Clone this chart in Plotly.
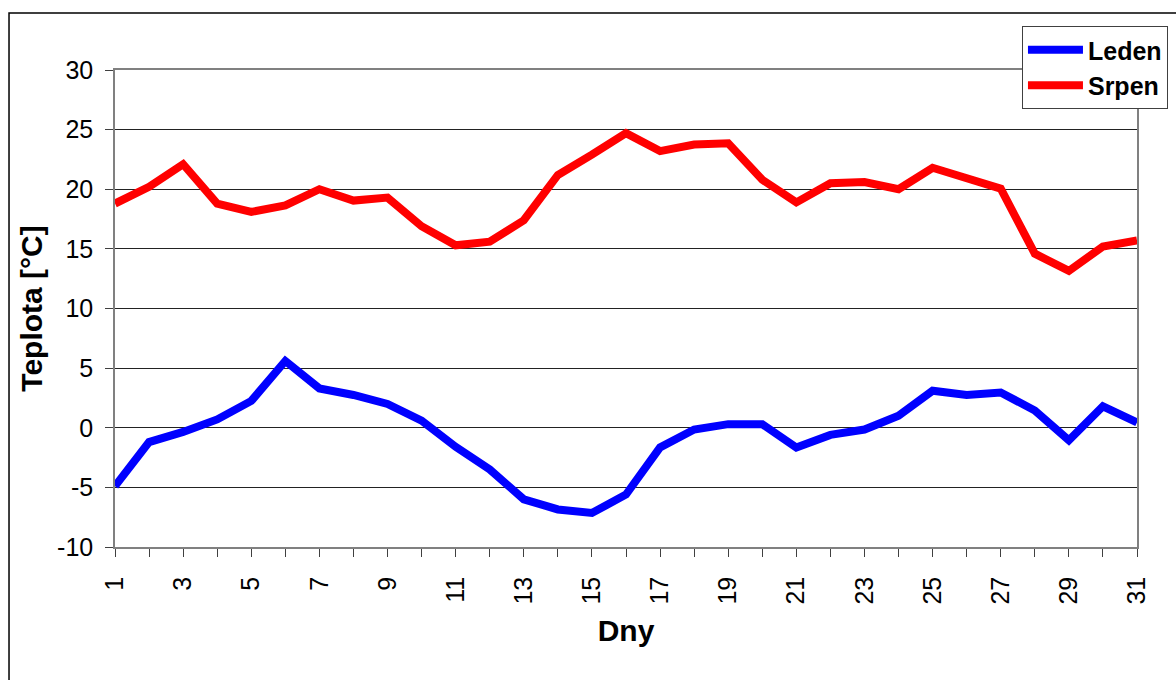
import plotly.graph_objects as go

# Daily temperatures for January (Leden) and August (Srpen)
dny = list(range(1, 32))
leden = [-4.9, -1.2, -0.35, 0.7, 2.25, 5.6, 3.3, 2.75, 2.0, 0.6,
         -1.6, -3.5, -6.0, -6.85, -7.15, -5.6, -1.65, -0.15, 0.3, 0.3,
         -1.65, -0.6, -0.15, 1.0, 3.1, 2.75, 2.95, 1.45, -1.05, 1.8, 0.45]
srpen = [18.8, 20.2, 22.1, 18.8, 18.1, 18.65, 20.0, 19.05, 19.3, 16.9,
         15.3, 15.6, 17.4, 21.2, 22.9, 24.7, 23.2, 23.75, 23.85, 20.8,
         18.9, 20.5, 20.6, 20.0, 21.8, 21.0, 20.05, 14.6, 13.15, 15.2, 15.7]
y_ticks = [-10, -5, 0, 5, 10, 15, 20, 25, 30]
y_ticktext = [str(v) for v in y_ticks]
x_ticktext = [str(d) if d % 2 == 1 else "" for d in dny]

font_family = "Liberation Sans, Arial, sans-serif"

fig = go.Figure()
fig.add_trace(go.Scatter(x=dny, y=leden, name="Leden", mode="lines",
                         line=dict(color="#0000FF", width=8)))
fig.add_trace(go.Scatter(x=dny, y=srpen, name="Srpen", mode="lines",
                         line=dict(color="#FF0000", width=8)))

fig.update_layout(
    width=1176, height=680,
    margin=dict(l=115, r=39, t=70, b=133, autoexpand=False),
    paper_bgcolor="white", plot_bgcolor="white",
    font=dict(family=font_family, color="black", size=25),
    showlegend=True,
    legend=dict(
        x=1.0303, y=1.0922, xanchor="right", yanchor="top",
        bgcolor="white", bordercolor="#404040", borderwidth=1,
        font=dict(family=font_family, size=25, color="black", weight="bold"),
        itemwidth=55, tracegroupgap=0,
    ),
    shapes=[dict(type="rect", xref="paper", yref="paper",
                 x0=-0.1037, x1=1.2, y0=-0.4, y1=1.1195,
                 line=dict(color="black", width=1.5), layer="below")],
)

fig.update_xaxes(
    range=[1, 31], tickmode="array", tickvals=dny, ticktext=x_ticktext,
    tickangle=-90, ticks="outside", ticklen=8, tickcolor="#404040",
    ticklabelstandoff=10,
    showgrid=False, zeroline=False,
    showline=True, linecolor="#808080", linewidth=1.5, mirror=True,
    tickfont=dict(size=25),
    title=dict(text="Dny", font=dict(size=30, weight="bold"), standoff=16),
)
fig.update_yaxes(
    range=[-10, 30], tickmode="array", tickvals=y_ticks, ticktext=y_ticktext,
    ticks="outside", ticklen=8, tickcolor="#404040",
    ticklabelstandoff=7,
    showgrid=True, gridcolor="#222222", gridwidth=1, zeroline=False,
    showline=True, linecolor="#808080", linewidth=1.5, mirror=True,
    tickfont=dict(size=25),
    title=dict(text="Teplota [°C]", font=dict(size=30, weight="bold"), standoff=6),
)

fig.write_html("out.html")
